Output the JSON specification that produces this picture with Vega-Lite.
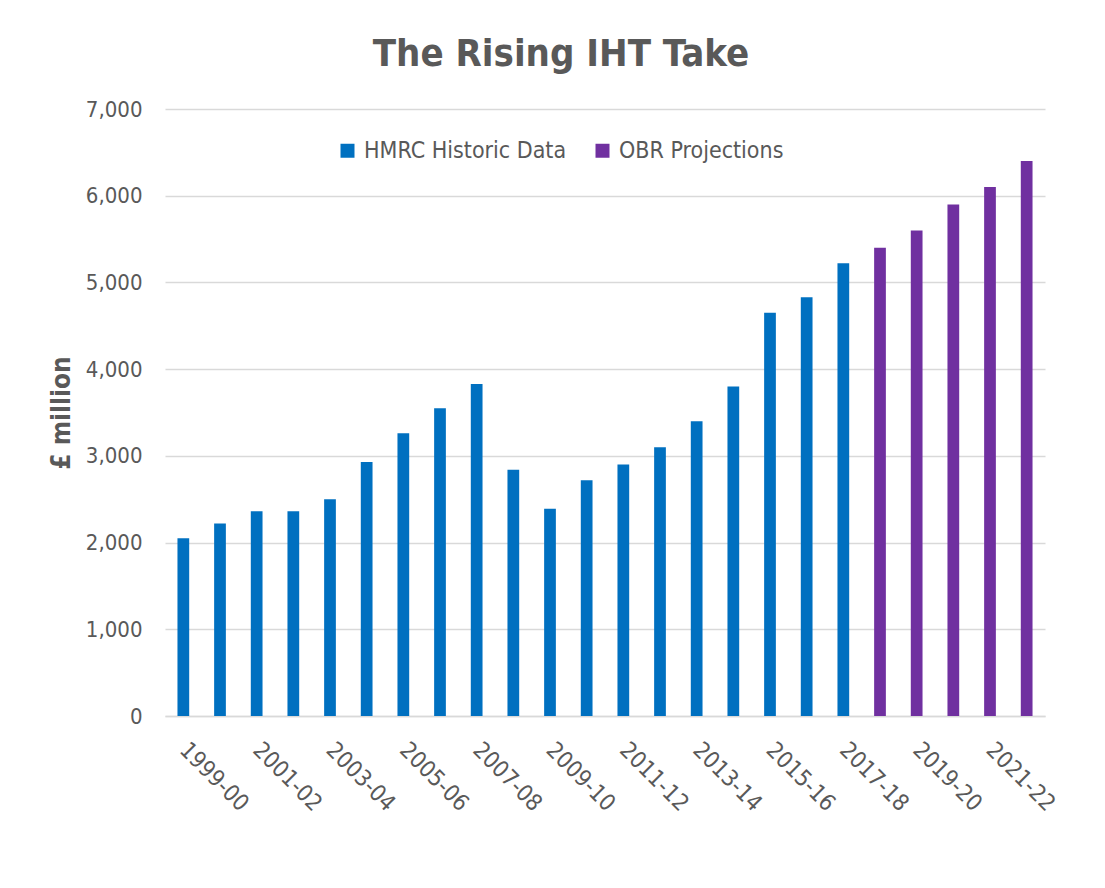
{
  "$schema": "https://vega.github.io/schema/vega-lite/v6.json",
  "autosize": {"type": "none"},
  "width": 880,
  "height": 607,
  "padding": {"left": 165, "top": 109, "right": 60, "bottom": 172},
  "background": "#ffffff",
  "title": {
    "text": "The Rising IHT Take",
    "font": "DejaVu Sans Condensed, DejaVu Sans",
    "fontSize": 38,
    "fontWeight": "bold",
    "color": "#595959",
    "anchor": "middle",
    "dx": -44,
    "offset": 24
  },
  "config": {
    "view": {"stroke": null},
    "font": "DejaVu Sans Condensed, DejaVu Sans"
  },
  "data": {
    "values": [
      {"year": "1999-00", "value": 2050, "source": "HMRC Historic Data"},
      {"year": "2000-01", "value": 2220, "source": "HMRC Historic Data"},
      {"year": "2001-02", "value": 2360, "source": "HMRC Historic Data"},
      {"year": "2002-03", "value": 2360, "source": "HMRC Historic Data"},
      {"year": "2003-04", "value": 2500, "source": "HMRC Historic Data"},
      {"year": "2004-05", "value": 2930, "source": "HMRC Historic Data"},
      {"year": "2005-06", "value": 3260, "source": "HMRC Historic Data"},
      {"year": "2006-07", "value": 3550, "source": "HMRC Historic Data"},
      {"year": "2007-08", "value": 3830, "source": "HMRC Historic Data"},
      {"year": "2008-09", "value": 2840, "source": "HMRC Historic Data"},
      {"year": "2009-10", "value": 2390, "source": "HMRC Historic Data"},
      {"year": "2010-11", "value": 2720, "source": "HMRC Historic Data"},
      {"year": "2011-12", "value": 2900, "source": "HMRC Historic Data"},
      {"year": "2012-13", "value": 3100, "source": "HMRC Historic Data"},
      {"year": "2013-14", "value": 3400, "source": "HMRC Historic Data"},
      {"year": "2014-15", "value": 3800, "source": "HMRC Historic Data"},
      {"year": "2015-16", "value": 4650, "source": "HMRC Historic Data"},
      {"year": "2016-17", "value": 4830, "source": "HMRC Historic Data"},
      {"year": "2017-18", "value": 5220, "source": "HMRC Historic Data"},
      {"year": "2018-19", "value": 5400, "source": "OBR Projections"},
      {"year": "2019-20", "value": 5600, "source": "OBR Projections"},
      {"year": "2020-21", "value": 5900, "source": "OBR Projections"},
      {"year": "2021-22", "value": 6100, "source": "OBR Projections"},
      {"year": "2022-23", "value": 6400, "source": "OBR Projections"}
    ]
  },
  "mark": {"type": "bar"},
  "encoding": {
    "x": {
      "field": "year",
      "type": "ordinal",
      "sort": null,
      "scale": {"paddingInner": 0.68, "paddingOuter": 0.34},
      "axis": {
        "title": null,
        "values": ["1999-00", "2001-02", "2003-04", "2005-06", "2007-08", "2009-10", "2011-12", "2013-14", "2015-16", "2017-18", "2019-20", "2021-22"],
        "labelAngle": 45,
        "labelAlign": "left",
        "labelBaseline": "middle",
        "labelFontSize": 23,
        "labelColor": "#595959",
        "labelPadding": 30,
        "labelOverlap": false,
        "labelLimit": 0,
        "ticks": false,
        "domainColor": "#d9d9d9",
        "domainWidth": 1.5,
        "grid": false
      }
    },
    "y": {
      "field": "value",
      "type": "quantitative",
      "scale": {"domain": [0, 7000]},
      "axis": {
        "title": "£ million",
        "titleFontSize": 26,
        "titleFontWeight": "bold",
        "titleColor": "#595959",
        "titlePadding": 11,
        "values": [0, 1000, 2000, 3000, 4000, 5000, 6000, 7000],
        "format": ",d",
        "labelFontSize": 22,
        "labelColor": "#595959",
        "labelPadding": 23,
        "ticks": false,
        "domain": false,
        "gridColor": "#d9d9d9",
        "gridWidth": 1.5
      }
    },
    "color": {
      "field": "source",
      "type": "nominal",
      "scale": {"domain": ["HMRC Historic Data", "OBR Projections"], "range": ["#0070C0", "#7030A0"]},
      "legend": {
        "title": null,
        "orient": "none",
        "legendX": 171,
        "legendY": 30,
        "direction": "horizontal",
        "symbolType": "square",
        "symbolSize": 196,
        "symbolStrokeWidth": 0,
        "labelFontSize": 23,
        "labelColor": "#595959",
        "labelOffset": 5,
        "labelLimit": 0,
        "columnPadding": 24
      }
    }
  }
}
